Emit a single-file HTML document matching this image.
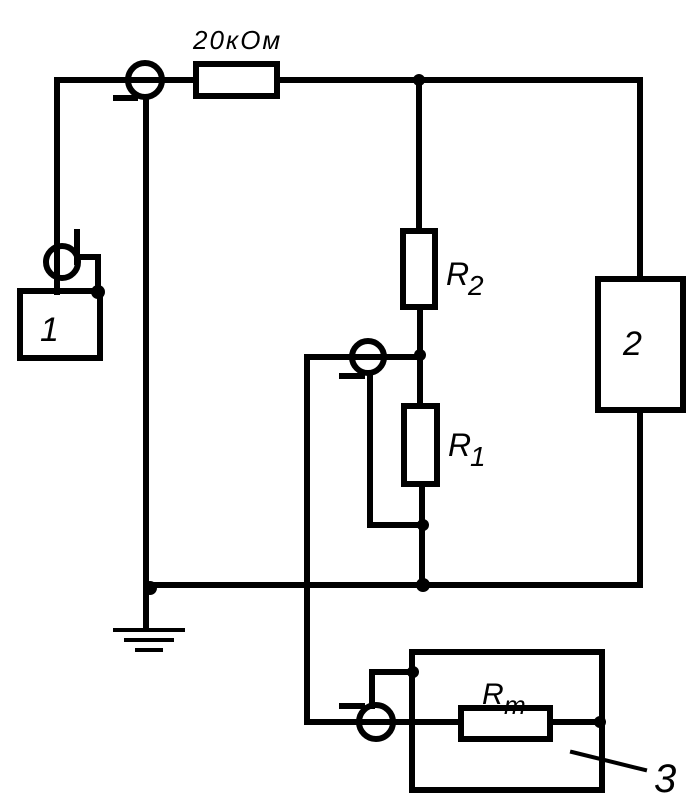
<!DOCTYPE html>
<html><head><meta charset="utf-8"><style>body{margin:0;background:#fff}svg{display:block}</style></head>
<body>
<svg width="700" height="812" viewBox="0 0 700 812" xmlns="http://www.w3.org/2000/svg">
<g stroke="#000" stroke-width="6" fill="none" stroke-linecap="square">
<path d="M57 80 H195 M277 80 H640 V278"/>
<path d="M57 80 V292"/>
<circle cx="62" cy="262" r="16"/>
<path d="M77 232 V262 M78 257 H98 V292"/>
<rect x="20" y="291" width="80" height="67"/>
<circle cx="145" cy="80" r="17"/>
<path d="M116 98 H135 M146 98 V585"/>
<rect x="196" y="64" width="81" height="32"/>
<path d="M419 80 V230"/>
<rect x="403" y="231" width="32" height="76"/>
<path d="M420 308 V405"/>
<rect x="404" y="406" width="33" height="78"/>
<path d="M422 485 V585"/>
<circle cx="368" cy="357" r="16"/>
<path d="M307 357 H420"/>
<path d="M342 376 H362 M370 376 V525 H423"/>
<rect x="598" y="279" width="85" height="131"/>
<path d="M640 410 V585 H146"/>
<path d="M146 585 V625"/>
<path d="M115 630 H183 M126 640 H172 M137 650 H161" stroke-width="4"/>
<path d="M307 357 V722 H461 M550 722 H600"/>
<circle cx="376" cy="722" r="17"/>
<rect x="461" y="708" width="89" height="31"/>
<path d="M342 706 H362 M372 706 V672 H413"/>
<path d="M412 652 H602 V790 H412 Z"/>
<path d="M572 752 L645 770" stroke-width="4"/>
</g>
<g fill="#000">
<circle cx="419" cy="80" r="6"/>
<circle cx="98" cy="292" r="7"/>
<circle cx="420" cy="355" r="6"/>
<circle cx="423" cy="525" r="6"/>
<circle cx="423" cy="585" r="7"/>
<circle cx="150" cy="588" r="7"/>
<circle cx="413" cy="672" r="6"/>
<circle cx="600" cy="722" r="6"/>
</g>
<g font-family="Liberation Sans, sans-serif" font-style="italic" fill="#000">
<text x="193" y="49" font-size="26" letter-spacing="2">20кОм</text>
<text x="40" y="341" font-size="34">1</text>
<text x="623" y="355" font-size="34">2</text>
<text x="446" y="285" font-size="32">R</text><text x="468" y="295" font-size="28">2</text>
<text x="448" y="456" font-size="32">R</text><text x="470" y="466" font-size="28">1</text>
<text x="482" y="704" font-size="30">R</text><text x="504" y="714" font-size="26">m</text>
<text x="654" y="792" font-size="40">3</text>
</g>
</svg>
</body></html>
